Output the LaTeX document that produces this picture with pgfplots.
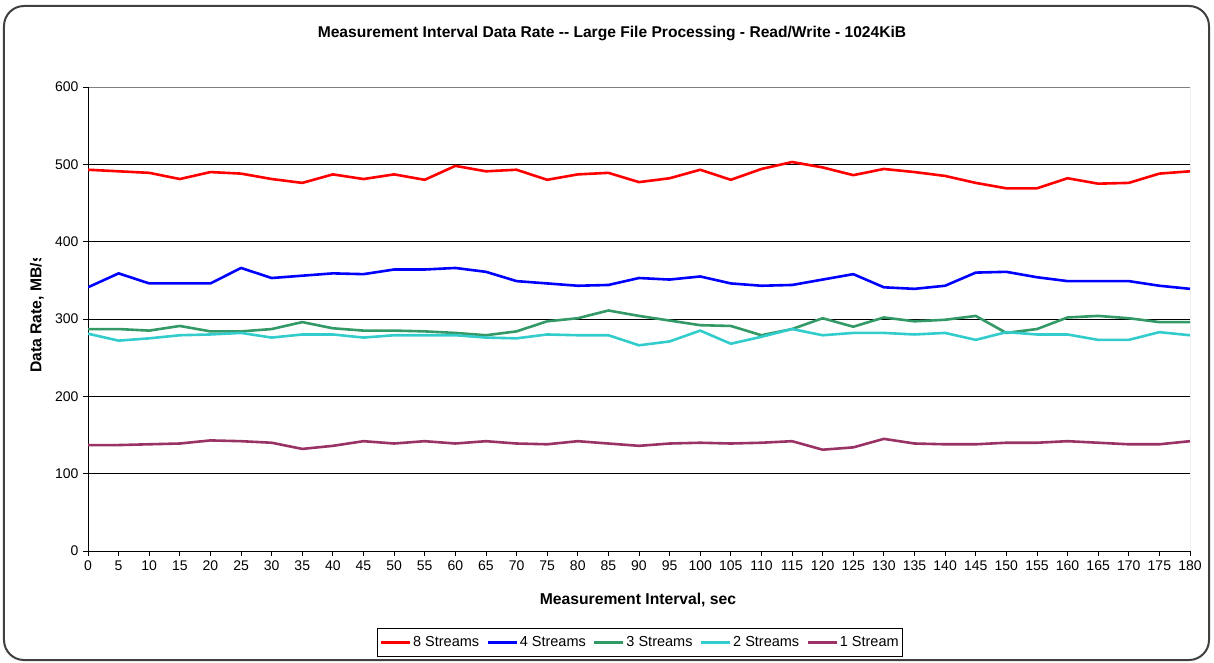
\documentclass[border=0pt]{standalone}
\usepackage{pgfplots}
\pgfplotsset{compat=1.18}
\usepackage{pgfplotstable}
\usepackage{fontspec}
\setmainfont{Liberation Sans}

\definecolor{s8col}{RGB}{255,0,0}
\definecolor{s4col}{RGB}{0,0,255}
\definecolor{s3col}{RGB}{51,153,102}
\definecolor{s2col}{RGB}{51,204,204}
\definecolor{s1col}{RGB}{153,51,102}

% measurement interval (sec) vs data rate (MB/s)
\pgfplotstableread{
x   s8  s4  s3  s2  s1
0   493 341 287 281 137
5   491 359 287 272 137
10  489 346 285 275 138
15  481 346 291 279 139
20  490 346 284 280 143
25  488 366 284 282 142
30  481 353 287 276 140
35  476 356 296 280 132
40  487 359 288 280 136
45  481 358 285 276 142
50  487 364 285 279 139
55  480 364 284 279 142
60  498 366 282 279 139
65  491 361 279 276 142
70  493 349 284 275 139
75  480 346 297 280 138
80  487 343 301 279 142
85  489 344 311 279 139
90  477 353 304 266 136
95  482 351 298 271 139
100 493 355 292 285 140
105 480 346 291 268 139
110 494 343 279 277 140
115 503 344 287 287 142
120 496 351 301 279 131
125 486 358 290 282 134
130 494 341 302 282 145
135 490 339 297 280 139
140 485 343 299 282 138
145 476 360 304 273 138
150 469 361 282 283 140
155 469 354 287 280 140
160 482 349 302 280 142
165 475 349 304 273 140
170 476 349 301 273 138
175 488 343 296 283 138
180 491 339 296 279 142
}\ratetable

\begin{document}
\begin{tikzpicture}[x=1pt,y=1pt]
  \useasboundingbox (-88,-111) rectangle (1126,551);
  \draw[line width=2pt, draw=black!75, rounded corners=20pt]
    (-84,-109) rectangle (1121,545);

  \begin{axis}[
      at={(0,0)}, anchor=south west,
      scale only axis,
      width=1102pt, height=464pt,
      xmin=0, xmax=180, ymin=0, ymax=600,
      xtick={0,5,...,180},
      ytick={0,100,...,600},
      tick align=outside,
      major tick length=5pt,
      tick style={black, line width=0.8pt},
      xtick pos=bottom, ytick pos=left,
      ymajorgrids,
      grid style={black, line width=0.8pt},
      axis line style={draw=none},
      every tick label/.append style={font=\fontsize{14}{16}\selectfont},
      /pgf/number format/assume math mode=true,
      xticklabel style={yshift=-1pt},
      yticklabel style={xshift=-1pt},
      legend style={
        at={(0.501,-0.166)}, anchor=north,
        draw=black, line width=0.8pt,
        font=\fontsize{14.5}{16}\selectfont,
        legend columns=5,
        inner xsep=2pt, inner ysep=6pt,
        /tikz/every even column/.append style={column sep=5pt},
      },
      legend image code/.code={\draw[#1] (0pt,0pt) -- (29pt,0pt);},
      legend cell align=left,
      every axis plot/.append style={line width=2.6pt, line join=round},
    ]
    % plot frame: gray top/right, black left/bottom
    \draw[gray, line width=1pt] (rel axis cs:0,1) -- (rel axis cs:1,1) -- (rel axis cs:1,0);
    \draw[black, line width=1pt] (rel axis cs:0,1) -- (rel axis cs:0,0) -- (rel axis cs:1,0);
    \addplot[s8col] table[x=x, y=s8] {\ratetable};
    \addplot[s4col] table[x=x, y=s4] {\ratetable};
    \addplot[s3col] table[x=x, y=s3] {\ratetable};
    \addplot[s2col] table[x=x, y=s2] {\ratetable};
    \addplot[s1col] table[x=x, y=s1] {\ratetable};
    \legend{8 Streams, 4 Streams, 3 Streams, 2 Streams, 1 Stream}
  \end{axis}

  \node[font=\fontsize{15.6}{18}\selectfont\bfseries] at (524,517)
    {Measurement Interval Data Rate -{}- Large File Processing - Read/Write - 1024KiB};
  \node[font=\fontsize{15.7}{18}\selectfont\bfseries] at (550,-49)
    {Measurement Interval, sec};
  \begin{scope}
    \clip (-88,0) rectangle (0,292);
    \node[rotate=90, anchor=west, inner sep=0pt,
          font=\fontsize{15.7}{18}\selectfont\bfseries] at (-51,178)
      {Data Rate, MB/s};
  \end{scope}
\end{tikzpicture}
\end{document}
